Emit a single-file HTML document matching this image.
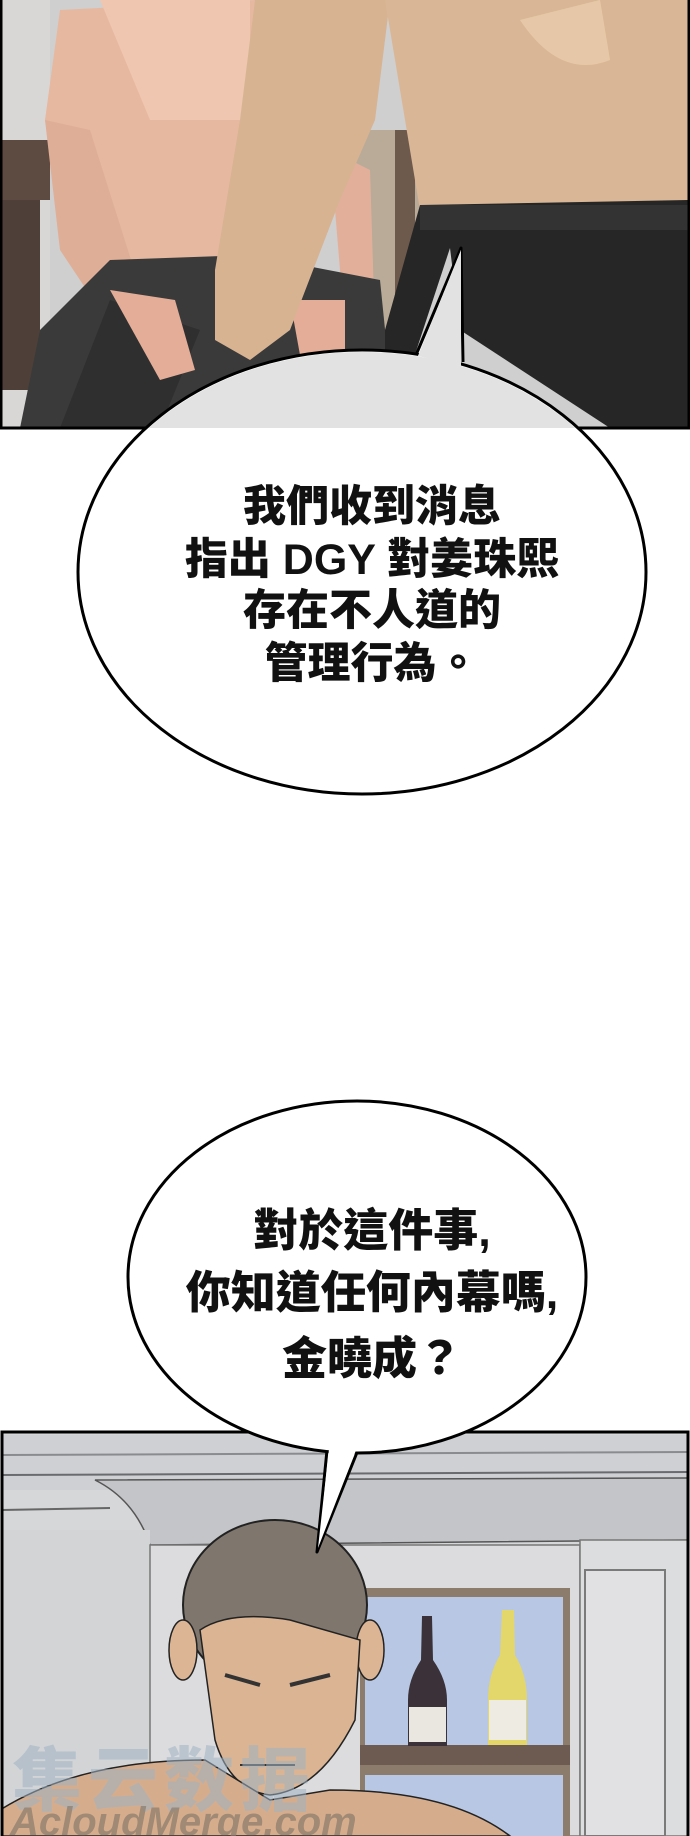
<!DOCTYPE html>
<html><head><meta charset="utf-8">
<style>
html,body{margin:0;padding:0;background:#fff;}
svg{display:block;}
text{font-family:"Liberation Sans","Noto Sans CJK TC","Noto Sans CJK SC",sans-serif;font-weight:900;fill:#111;}
</style></head>
<body>
<svg width="690" height="1836" viewBox="0 0 690 1836" xmlns="http://www.w3.org/2000/svg">
<defs>
<clipPath id="c1"><rect x="2" y="0" width="686" height="428"/></clipPath>
<clipPath id="c2"><rect x="2" y="1432" width="686" height="404"/></clipPath>
</defs>
<g clip-path="url(#c1)">
<rect x="0" y="0" width="690" height="430" fill="#cfcfcf"/>
<rect x="0" y="0" width="50" height="430" fill="#d9d7d6"/>
<rect x="0" y="140" width="50" height="60" fill="#5d4a40"/>
<rect x="0" y="200" width="40" height="190" fill="#4e4038"/>
<rect x="350" y="130" width="70" height="200" fill="#b9ab98"/>
<rect x="395" y="130" width="20" height="200" fill="#6e5a4c"/>
<path d="M60 10 L255 0 L250 265 L120 265 L60 200 L45 120 Z" fill="#e6b8a0"/>
<path d="M100 0 L250 0 L250 120 L150 120 Z" fill="#efc6b0"/>
<path d="M45 120 L90 130 L150 320 L120 340 L60 250 Z" fill="#dfae96"/>
<path d="M330 150 L370 170 L375 330 L345 330 Z" fill="#e2b09a"/>
<path d="M20 428 L40 330 L110 260 L250 255 L380 280 L395 428 Z" fill="#3a3a3a"/>
<path d="M110 300 L200 330 L160 428 L60 428 Z" fill="#2f2f30"/>
<path d="M110 290 L175 300 L195 370 L160 380 Z" fill="#e4ad98"/>
<path d="M290 300 L345 300 L345 350 L300 355 Z" fill="#e4ad98"/>
<path d="M255 0 L390 0 L375 120 L340 200 L290 330 L250 360 L215 340 L215 270 L240 120 Z" fill="#d7b392"/>
<path d="M385 0 L690 0 L690 205 L420 210 Z" fill="#d9b796"/>
<path d="M520 20 Q560 80 610 60 L600 0 Z" fill="#e6c8a8"/>
<path d="M420 205 L690 200 L690 428 L610 428 L460 330 L450 248 L400 400 L385 428 L385 330 Z" fill="#262626"/>
<rect x="420" y="205" width="270" height="25" fill="#333"/>
</g>
<rect x="1" y="-2" width="688" height="430" fill="none" stroke="#000" stroke-width="3"/>

<g clip-path="url(#c2)">
<rect x="0" y="1432" width="690" height="404" fill="#d6d7d9"/>
<rect x="0" y="1435" width="690" height="55" fill="#cfd0d3"/>
<line x1="0" y1="1455" x2="690" y2="1452" stroke="#8a8b8e" stroke-width="2"/>
<line x1="0" y1="1475" x2="690" y2="1472" stroke="#6a6b6e" stroke-width="2"/>
<path d="M95 1480 L690 1478 L690 1540 L150 1545 Q135 1500 95 1480 Z" fill="#c4c5c8" stroke="#555" stroke-width="1.5"/>
<line x1="0" y1="1510" x2="110" y2="1508" stroke="#666" stroke-width="2"/>
<rect x="0" y="1530" width="150" height="306" fill="#d3d4d6"/>
<rect x="150" y="1545" width="430" height="291" fill="#dcdcde" stroke="#777" stroke-width="1.5"/>
<rect x="580" y="1540" width="108" height="296" fill="#dcdddf" stroke="#777" stroke-width="1.5"/>
<rect x="585" y="1570" width="80" height="266" fill="#e1e1e3" stroke="#7a7a7a" stroke-width="2"/>
<rect x="360" y="1588" width="210" height="248" fill="#8c7c6c"/>
<rect x="365" y="1597" width="198" height="148" fill="#b8c8e4"/>
<rect x="360" y="1745" width="210" height="20" fill="#6d5a50"/>
<rect x="365" y="1775" width="198" height="61" fill="#b8c8e4"/>
<path d="M422 1616 L432 1616 L433 1660 Q447 1680 447 1700 L447 1746 L408 1746 L408 1700 Q408 1680 421 1660 Z" fill="#3a3238"/>
<rect x="409" y="1707" width="37" height="35" fill="#eae6e0"/>
<path d="M502 1610 L514 1610 L515 1655 Q527 1675 527 1700 L527 1745 L488 1745 L488 1700 Q488 1675 500 1655 Z" fill="#e3d66a"/>
<rect x="489" y="1700" width="37" height="40" fill="#eeebe2"/>
<ellipse cx="275" cy="1605" rx="92" ry="85" fill="#7f766e" stroke="#222" stroke-width="2"/>
<ellipse cx="183" cy="1650" rx="14" ry="30" fill="#dcb595" stroke="#222" stroke-width="1.5"/>
<ellipse cx="370" cy="1650" rx="14" ry="30" fill="#dcb595" stroke="#222" stroke-width="1.5"/>
<path d="M200 1630 Q230 1610 290 1620 L360 1640 L355 1720 Q320 1790 270 1795 Q230 1790 215 1740 Z" fill="#dab493" stroke="#222" stroke-width="1.5"/>
<path d="M225 1675 L260 1685 M290 1685 L330 1675" stroke="#333" stroke-width="4"/>
<path d="M240 1765 L295 1765" stroke="#333" stroke-width="2"/>
<path d="M0 1810 Q80 1760 205 1760 L270 1800 L330 1790 Q450 1790 510 1836 L0 1836 Z" fill="#d6ad8c" stroke="#222" stroke-width="1.5"/>
<text x="12" y="1805" font-size="70" style="fill:#9fb3c4;opacity:0.55;letter-spacing:6px">集云数据</text>
<text x="10" y="1835" font-size="40" font-style="italic" style="fill:#8a7b6c;opacity:0.7">AcloudMerge.com</text>
</g>
<rect x="2" y="1432" width="686" height="410" fill="none" stroke="#000" stroke-width="3"/>

<!-- BUBBLE 1 -->
<path d="M416 355 L461 248 L463 362" fill="#fff" stroke="#000" stroke-width="3" stroke-linejoin="round"/>
<ellipse cx="362" cy="572" rx="284" ry="222" fill="#fff" stroke="#000" stroke-width="3"/>
<path d="M418 356 L461 250 L461 366 Z" fill="#fff"/>
<g clip-path="url(#c1)">
<ellipse cx="362" cy="572" rx="282" ry="220" fill="#e2e2e2"/>
<path d="M418 356 L461 250 L461 366 Z" fill="#e2e2e2"/>
</g>
<g font-size="43" text-anchor="middle">
<text x="372" y="521">我們收到消息</text>
<text x="372" y="574">指出 DGY 對姜珠熙</text>
<text x="372" y="625">存在不人道的</text>
<text x="372" y="678">管理行為。</text>
</g>

<!-- BUBBLE 2 -->
<path d="M328 1440 L317 1552 L362 1440" fill="#fff" stroke="#000" stroke-width="3" stroke-linejoin="round"/>
<ellipse cx="357" cy="1277" rx="229" ry="176" fill="#fff" stroke="#000" stroke-width="3"/>
<path d="M330 1440 L318 1548 L360 1440 Z" fill="#fff"/>
<g font-size="45" text-anchor="middle">
<text x="372" y="1246">對於這件事,</text>
<text x="372" y="1308">你知道任何內幕嗎,</text>
<text x="372" y="1374">金曉成？</text>
</g>
</svg>
</body></html>
